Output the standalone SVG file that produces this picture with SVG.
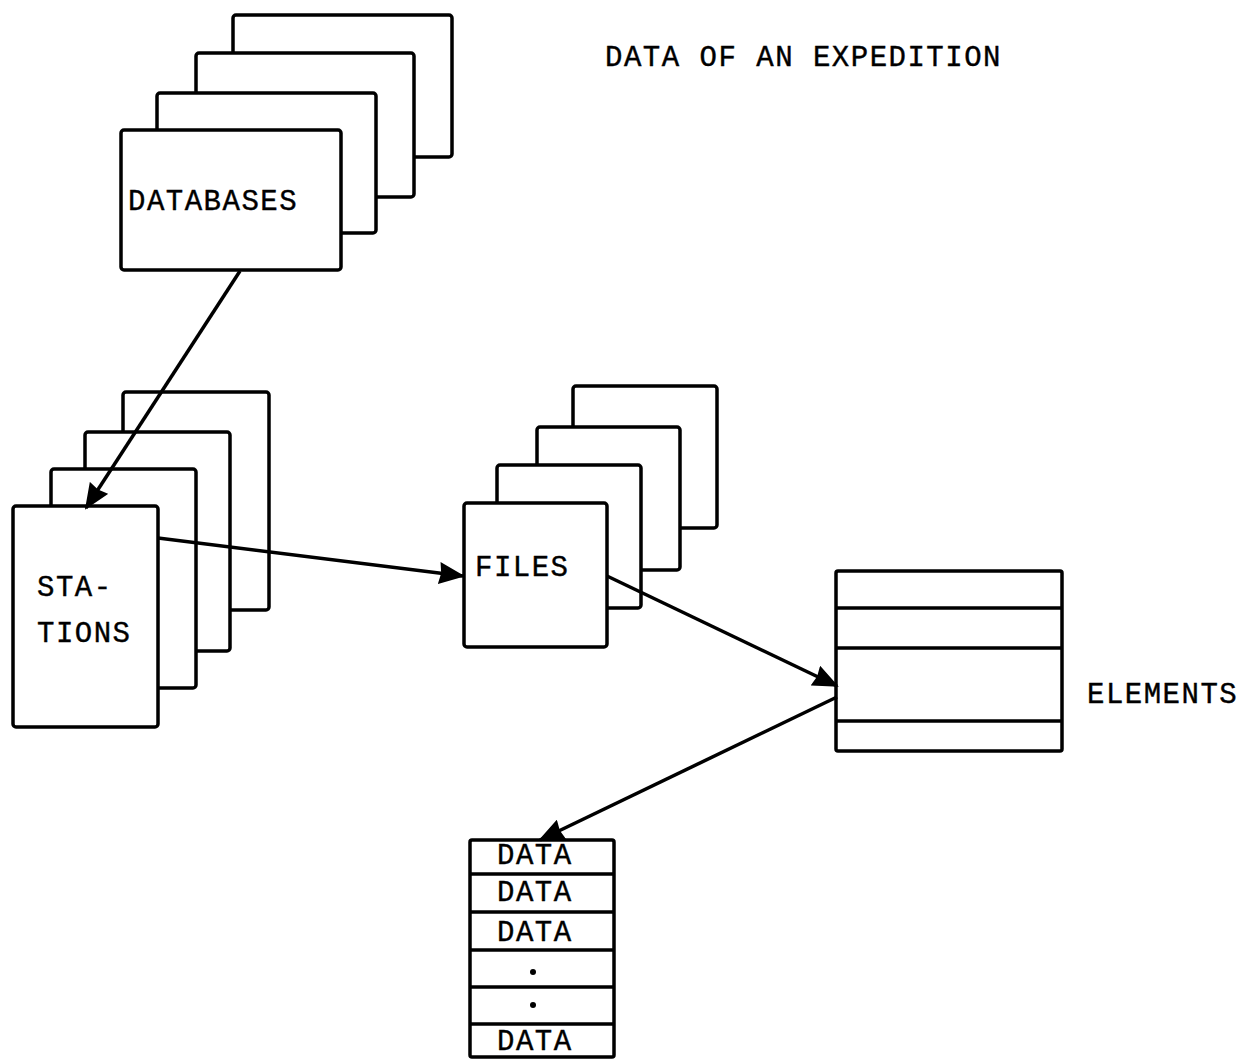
<svg xmlns="http://www.w3.org/2000/svg" width="1243" height="1060" viewBox="0 0 1243 1060">
  <style>
    .card { fill: #ffffff; stroke: #000000; stroke-width: 3.5; }
    .rule { stroke: #000000; stroke-width: 3.5; fill: none; }
    .lbl { font-family: "Liberation Mono", "DejaVu Sans Mono", monospace; font-size: 29px; fill: #000000; stroke: #000000; stroke-width: 0.4; letter-spacing: 1.5px; }
    .link { stroke: #000000; stroke-width: 3.5; fill: none; marker-end: url(#head); }
  </style>
  <defs>
    <!-- solid wedge arrowhead shared by all connectors -->
    <marker id="head" viewBox="0 0 26 22" refX="24" refY="11" markerWidth="26" markerHeight="22" markerUnits="userSpaceOnUse" orient="auto">
      <path d="M0,0 L26,11 L0,22 L2,11 Z" fill="#000000"/>
    </marker>
  </defs>
  <rect width="1243" height="1060" fill="#ffffff"/>

  <text class="lbl" x="605" y="66">DATA OF AN EXPEDITION</text>

  <g id="databases">
    <rect class="card" x="233" y="15" width="219" height="142" rx="3"/>
    <rect class="card" x="196" y="53" width="218" height="144" rx="3"/>
    <rect class="card" x="157" y="93" width="219" height="140" rx="3"/>
    <rect class="card" x="121" y="130" width="220" height="140" rx="3"/>
    <text class="lbl" x="128" y="210">DATABASES</text>
  </g>

  <g id="stations">
    <rect class="card" x="123" y="392" width="146" height="218" rx="3"/>
    <rect class="card" x="85" y="432" width="145" height="219" rx="3"/>
    <rect class="card" x="51" y="469" width="145" height="219" rx="3"/>
    <rect class="card" x="13" y="506" width="145" height="221" rx="3"/>
    <text class="lbl" x="37" y="596">STA-</text>
    <text class="lbl" x="37" y="642">TIONS</text>
  </g>

  <g id="files">
    <rect class="card" x="573" y="386" width="144" height="142" rx="3"/>
    <rect class="card" x="537" y="427" width="143" height="143" rx="3"/>
    <rect class="card" x="497" y="465" width="144" height="143" rx="3"/>
    <rect class="card" x="464" y="503" width="143" height="144" rx="3"/>
    <text class="lbl" x="475" y="576">FILES</text>
  </g>

  <g id="elements">
    <rect class="card" x="836" y="571" width="226" height="180" rx="2"/>
    <line class="rule" x1="836" y1="608" x2="1062" y2="608"/>
    <line class="rule" x1="836" y1="648" x2="1062" y2="648"/>
    <line class="rule" x1="836" y1="721" x2="1062" y2="721"/>
    <text class="lbl" x="1087" y="703">ELEMENTS</text>
  </g>

  <g id="data">
    <rect class="card" x="470" y="840" width="144" height="217" rx="2"/>
    <line class="rule" x1="470" y1="874" x2="614" y2="874"/>
    <line class="rule" x1="470" y1="912" x2="614" y2="912"/>
    <line class="rule" x1="470" y1="950" x2="614" y2="950"/>
    <line class="rule" x1="470" y1="987" x2="614" y2="987"/>
    <line class="rule" x1="470" y1="1024" x2="614" y2="1024"/>
    <text class="lbl" x="497" y="864">DATA</text>
    <text class="lbl" x="497" y="901">DATA</text>
    <text class="lbl" x="497" y="941">DATA</text>
    <circle cx="533" cy="972" r="3" fill="#000000"/>
    <circle cx="533" cy="1005" r="3" fill="#000000"/>
    <text class="lbl" x="497" y="1050">DATA</text>
  </g>

  <g id="connectors">
    <line class="link" x1="240" y1="271" x2="86" y2="508"/>
    <line class="link" x1="158" y1="538" x2="463" y2="576"/>
    <line class="link" x1="607" y1="576" x2="837" y2="686"/>
    <line class="link" x1="837" y1="697" x2="540" y2="840"/>
  </g>
</svg>
